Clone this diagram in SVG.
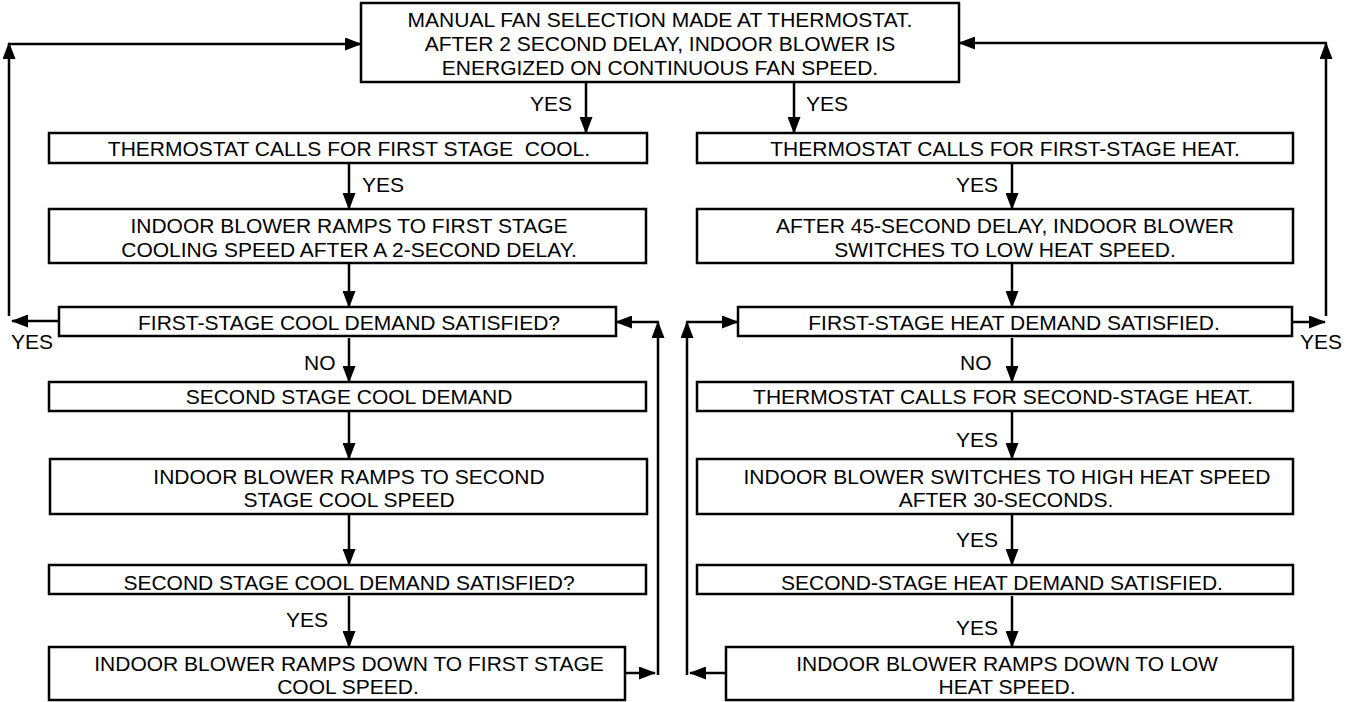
<svg xmlns="http://www.w3.org/2000/svg" width="1352" height="702" viewBox="0 0 1352 702">
<style>
rect{fill:#fff;stroke:#000;stroke-width:2.5}
rect.bg{stroke:none}
text{font-family:"Liberation Sans",Arial,sans-serif;font-size:21px;fill:#000}
.c{text-anchor:middle}
.pre{white-space:pre}
.l line,.l path{stroke:#000;stroke-width:2.5;fill:none}
</style>
<defs>
<marker id="a" markerUnits="userSpaceOnUse" markerWidth="17" markerHeight="13" viewBox="0 0 17 13" refX="16" refY="6.5" orient="auto">
<path d="M0,0 L17,6.5 L0,13 z" fill="#000"/>
</marker>
</defs>
<rect class="bg" width="1352" height="702"/>
<g id="top"><rect x="361" y="3" width="598" height="79"/>
<text class="c" x="660" y="27">MANUAL FAN SELECTION MADE AT THERMOSTAT.</text>
<text class="c" x="660" y="51">AFTER 2 SECOND DELAY, INDOOR BLOWER IS</text>
<text class="c" x="660" y="75">ENERGIZED ON CONTINUOUS FAN SPEED.</text></g>
<g id="c1"><rect x="49" y="133" width="598" height="30"/><text class="c pre" x="349" y="156" xml:space="preserve">THERMOSTAT CALLS FOR FIRST STAGE  COOL.</text></g>
<g id="h1"><rect x="697" y="133" width="596" height="30"/><text class="c" x="1005" y="156">THERMOSTAT CALLS FOR FIRST-STAGE HEAT.</text></g>
<g id="c2"><rect x="49" y="209" width="597" height="54"/><text class="c" x="349" y="233">INDOOR BLOWER RAMPS TO FIRST STAGE</text><text class="c" x="349" y="257">COOLING SPEED AFTER A 2-SECOND DELAY.</text></g>
<g id="h2"><rect x="697" y="209" width="596" height="54"/><text class="c" x="1005" y="233">AFTER 45-SECOND DELAY, INDOOR BLOWER</text><text class="c" x="1005" y="257">SWITCHES TO LOW HEAT SPEED.</text></g>
<g id="c3"><rect x="59" y="307" width="557" height="29"/><text class="c" x="349" y="330">FIRST-STAGE COOL DEMAND SATISFIED?</text></g>
<g id="h3"><rect x="738" y="307" width="554" height="29"/><text class="c" x="1014" y="330">FIRST-STAGE HEAT DEMAND SATISFIED.</text></g>
<g id="c4"><rect x="49" y="382" width="597" height="29"/><text class="c" x="349" y="404">SECOND STAGE COOL DEMAND</text></g>
<g id="h4"><rect x="697" y="382" width="596" height="29"/><text class="c" x="1003" y="404">THERMOSTAT CALLS FOR SECOND-STAGE HEAT.</text></g>
<g id="c5"><rect x="50" y="459" width="597" height="55"/><text class="c" x="349" y="484">INDOOR BLOWER RAMPS TO SECOND</text><text class="c" x="349" y="507">STAGE COOL SPEED</text></g>
<g id="h5"><rect x="697" y="459" width="596" height="55"/><text class="c" x="1007" y="484">INDOOR BLOWER SWITCHES TO HIGH HEAT SPEED</text><text class="c" x="1006" y="507">AFTER 30-SECONDS.</text></g>
<g id="c6"><rect x="49" y="565" width="597" height="29"/><text class="c" x="349" y="590">SECOND STAGE COOL DEMAND SATISFIED?</text></g>
<g id="h6"><rect x="697" y="565" width="596" height="29"/><text class="c" x="1002" y="590">SECOND-STAGE HEAT DEMAND SATISFIED.</text></g>
<g id="c7"><rect x="49" y="647" width="576" height="53"/><text class="c" x="349" y="671">INDOOR BLOWER RAMPS DOWN TO FIRST STAGE</text><text class="c" x="348" y="694">COOL SPEED.</text></g>
<g id="h7"><rect x="726" y="647" width="567" height="53"/><text class="c" x="1007" y="671">INDOOR BLOWER RAMPS DOWN TO LOW</text><text class="c" x="1007" y="694">HEAT SPEED.</text></g>
<g id="connectors" class="l">
<line x1="586" y1="82" x2="586" y2="133" marker-end="url(#a)"/>
<line x1="794" y1="82" x2="794" y2="133" marker-end="url(#a)"/>
<line x1="349" y1="163" x2="349" y2="209" marker-end="url(#a)"/>
<line x1="349" y1="263" x2="349" y2="307" marker-end="url(#a)"/>
<line x1="349" y1="338" x2="349" y2="382" marker-end="url(#a)"/>
<line x1="349" y1="411" x2="349" y2="459" marker-end="url(#a)"/>
<line x1="349" y1="514" x2="349" y2="565" marker-end="url(#a)"/>
<line x1="349" y1="596" x2="349" y2="647" marker-end="url(#a)"/>
<line x1="1012" y1="163" x2="1012" y2="209" marker-end="url(#a)"/>
<line x1="1012" y1="263" x2="1012" y2="307" marker-end="url(#a)"/>
<line x1="1012" y1="338" x2="1012" y2="382" marker-end="url(#a)"/>
<line x1="1012" y1="411" x2="1012" y2="459" marker-end="url(#a)"/>
<line x1="1012" y1="514" x2="1012" y2="565" marker-end="url(#a)"/>
<line x1="1012" y1="596" x2="1012" y2="647" marker-end="url(#a)"/>
<line x1="59" y1="321" x2="12" y2="321" marker-end="url(#a)"/>
<line x1="9" y1="316" x2="9" y2="43" marker-end="url(#a)"/>
<line x1="8" y1="44" x2="361" y2="44" marker-end="url(#a)"/>
<line x1="1292" y1="322" x2="1325" y2="322" marker-end="url(#a)"/>
<line x1="1326" y1="316" x2="1326" y2="43" marker-end="url(#a)"/>
<line x1="1327" y1="43" x2="959" y2="43" marker-end="url(#a)"/>
<line x1="625" y1="673" x2="655" y2="673" marker-end="url(#a)"/>
<line x1="658" y1="675" x2="658" y2="322" marker-end="url(#a)"/>
<line x1="659" y1="322" x2="616" y2="322" marker-end="url(#a)"/>
<line x1="726" y1="673" x2="690" y2="673" marker-end="url(#a)"/>
<line x1="687" y1="675" x2="687" y2="322" marker-end="url(#a)"/>
<line x1="686" y1="322" x2="738" y2="322" marker-end="url(#a)"/>
</g>
<g id="labels">
<text x="530" y="111">YES</text>
<text x="806" y="111">YES</text>
<text x="362" y="192">YES</text>
<text x="956" y="192">YES</text>
<text x="11" y="349">YES</text>
<text x="1300" y="349">YES</text>
<text x="304" y="370">NO</text>
<text x="960" y="370">NO</text>
<text x="956" y="447">YES</text>
<text x="956" y="547">YES</text>
<text x="286" y="627">YES</text>
<text x="956" y="635">YES</text>
</g>
</svg>
